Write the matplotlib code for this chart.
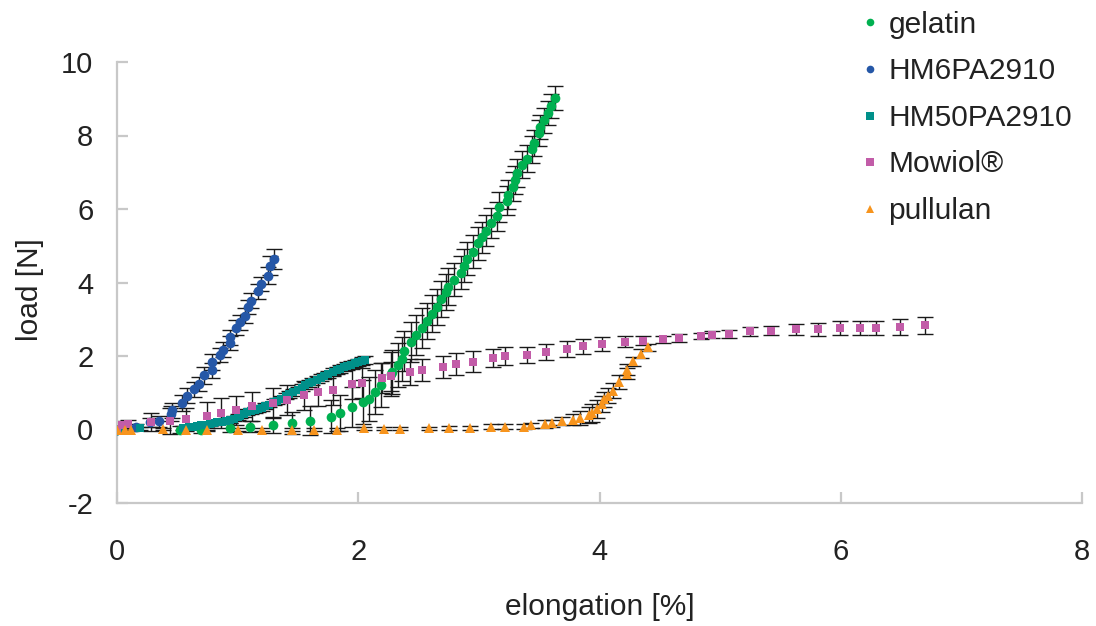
import matplotlib
matplotlib.use("Agg")

import matplotlib.pyplot as plt
from matplotlib.lines import Line2D

plt.rcParams["font.family"] = ["Liberation Sans", "DejaVu Sans"]
plt.rcParams["axes.unicode_minus"] = False

# ── Colours ────────────────────────────────────────────────────────────────
GREEN  = "#00b050"
BLUE   = "#2557a7"
TEAL   = "#00908a"
PINK   = "#c25ca8"
ORANGE = "#f7941d"
AXIS   = "#c8c8c8"
TEXT   = "#222222"

# ── Data ──────────────────────────────────────────────────────────────────
GELATIN_X = [0.0, 0.52, 0.70, 0.94, 1.10, 1.29, 1.45, 1.60, 1.77, 1.85,
             1.95, 2.04, 2.09, 2.14, 2.19, 2.27, 2.28, 2.33, 2.36,
             2.38, 2.44, 2.48, 2.53, 2.57, 2.61, 2.65, 2.69, 2.73, 2.74,
             2.79, 2.85, 2.88, 2.90, 2.95, 2.99, 3.03, 3.06, 3.10, 3.15,
             3.17, 3.23, 3.24, 3.28, 3.30, 3.32, 3.36, 3.40, 3.44, 3.46,
             3.50, 3.51, 3.54, 3.57, 3.60, 3.63]
GELATIN_Y = [0.0, 0.0, 0.0, 0.05, 0.08, 0.11, 0.17, 0.24, 0.35, 0.45,
             0.61, 0.74, 0.84, 1.02, 1.22, 1.50, 1.56, 1.75, 1.91,
             2.13, 2.38, 2.57, 2.76, 2.95, 3.15, 3.33, 3.55, 3.74, 3.89,
             4.08, 4.27, 4.46, 4.65, 4.84, 5.07, 5.23, 5.41, 5.62, 5.80,
             6.05, 6.23, 6.39, 6.61, 6.80, 6.99, 7.21, 7.37, 7.62, 7.79,
             8.06, 8.23, 8.41, 8.61, 8.80, 9.02]
GELATIN_ERR = [0.05, 0.1, 0.1, 0.12, 0.15, 0.2, 0.3, 0.4, 0.45, 0.5,
               0.55, 0.6, 0.6, 0.6, 0.6, 0.6, 0.6, 0.6, 0.6,
               0.55, 0.55, 0.55, 0.55, 0.5, 0.5, 0.5, 0.5, 0.5, 0.5,
               0.45, 0.45, 0.45, 0.45, 0.45, 0.45, 0.42, 0.42, 0.42, 0.4,
               0.4, 0.4, 0.4, 0.4, 0.38, 0.38, 0.38, 0.36, 0.36, 0.35,
               0.35, 0.33, 0.33, 0.32, 0.32, 0.32]

HM6_X = [0.0, 0.155, 0.27, 0.35, 0.45, 0.46, 0.54, 0.58, 0.64, 0.68,
         0.725, 0.79, 0.79, 0.85, 0.875, 0.94, 0.94, 0.99, 1.02, 1.06,
         1.085, 1.11, 1.17, 1.19, 1.25, 1.27, 1.30]
HM6_Y = [0.0, 0.08, 0.2, 0.23, 0.43, 0.52, 0.73, 0.92, 1.09, 1.24,
         1.47, 1.61, 1.83, 2.03, 2.17, 2.35, 2.51, 2.77, 2.92, 3.10,
         3.33, 3.51, 3.76, 3.96, 4.19, 4.46, 4.63]
HM6_ERR = [0.05, 0.08, 0.12, 0.15, 0.2, 0.2, 0.22, 0.2, 0.2, 0.2,
           0.22, 0.2, 0.22, 0.2, 0.2, 0.2, 0.2, 0.2, 0.2, 0.2,
           0.2, 0.2, 0.2, 0.2, 0.22, 0.25, 0.27]

HM50_X = [0.0, 0.05, 0.19, 0.55, 0.60, 0.63, 0.66, 0.70, 0.74, 0.77,
          0.80, 0.83, 0.87, 0.90, 0.94, 0.97, 1.00, 1.02, 1.05, 1.08,
          1.11, 1.14, 1.17, 1.20, 1.23, 1.26, 1.30, 1.33, 1.36, 1.40,
          1.43, 1.46, 1.50, 1.53, 1.56, 1.59, 1.62, 1.66, 1.69, 1.72,
          1.75, 1.79, 1.82, 1.85, 1.88, 1.91, 1.94, 1.97, 2.00, 2.03,
          2.06]
HM50_Y = [0.0, 0.02, 0.04, 0.05, 0.07, 0.08, 0.09, 0.11, 0.13, 0.15,
          0.17, 0.20, 0.21, 0.23, 0.25, 0.29, 0.34, 0.38, 0.43, 0.47,
          0.50, 0.52, 0.55, 0.58, 0.63, 0.68, 0.74, 0.78, 0.84, 0.90,
          0.96, 1.01, 1.08, 1.14, 1.20, 1.26, 1.30, 1.36, 1.41, 1.46,
          1.50, 1.56, 1.61, 1.65, 1.69, 1.73, 1.76, 1.80, 1.83, 1.86,
          1.89]
HM50_ERR = [0.02, 0.03, 0.04, 0.05, 0.05, 0.05, 0.05, 0.05, 0.06, 0.06,
            0.06, 0.06, 0.06, 0.07, 0.07, 0.07, 0.07, 0.08, 0.08, 0.08,
            0.08, 0.08, 0.08, 0.08, 0.08, 0.08, 0.08, 0.08, 0.08, 0.08,
            0.09, 0.09, 0.09, 0.09, 0.09, 0.09, 0.09, 0.09, 0.09, 0.09,
            0.1, 0.1, 0.1, 0.1, 0.1, 0.1, 0.1, 0.1, 0.1, 0.1,
            0.1]

MOWIOL_X = [0.0, 0.04, 0.09, 0.28, 0.44, 0.57, 0.75, 0.86, 0.99, 1.12,
            1.29, 1.41, 1.55, 1.67, 1.79, 1.95, 2.03, 2.20, 2.27, 2.43,
            2.53, 2.70, 2.81, 2.95, 3.12, 3.22, 3.40, 3.56, 3.73, 3.86,
            4.02, 4.21, 4.36, 4.53, 4.66, 4.84, 4.93, 5.07, 5.25, 5.42,
            5.63, 5.81, 5.99, 6.16, 6.29, 6.49, 6.70]
MOWIOL_Y = [0.0, 0.13, 0.15, 0.20, 0.23, 0.29, 0.36, 0.45, 0.52, 0.63,
            0.73, 0.80, 0.93, 1.03, 1.08, 1.24, 1.27, 1.40, 1.45, 1.56,
            1.62, 1.71, 1.79, 1.85, 1.94, 2.00, 2.03, 2.12, 2.19, 2.26,
            2.33, 2.39, 2.42, 2.45, 2.49, 2.54, 2.58, 2.60, 2.67, 2.69,
            2.73, 2.73, 2.76, 2.76, 2.76, 2.78, 2.83]
MOWIOL_ERR = [0.05, 0.1, 0.12, 0.25, 0.35, 0.3, 0.38, 0.4, 0.4, 0.4,
              0.4, 0.4, 0.4, 0.4, 0.4, 0.4, 0.4, 0.4, 0.4, 0.35,
              0.3, 0.3, 0.3, 0.28, 0.25, 0.25, 0.22, 0.22, 0.22, 0.2,
              0.2, 0.15, 0.12, 0.1, 0.1, 0.08, 0.1, 0.12, 0.12, 0.13,
              0.15, 0.18, 0.18, 0.2, 0.2, 0.22, 0.24]

PULLULAN_X = [0.0, 0.07, 0.12, 0.38, 0.57, 0.75, 1.00, 1.20, 1.45, 1.63,
              1.82, 2.05, 2.21, 2.35, 2.59, 2.75, 2.93, 3.10, 3.22, 3.37,
              3.43, 3.55, 3.61, 3.69, 3.78, 3.84, 3.91, 3.94, 3.98, 4.02,
              4.04, 4.07, 4.11, 4.16, 4.23, 4.23, 4.28, 4.34, 4.40]
PULLULAN_Y = [0.0, 0.0, 0.0, 0.02, 0.0, 0.0, 0.0, 0.0, 0.0, 0.0,
              0.0, 0.03, 0.02, 0.02, 0.03, 0.05, 0.05, 0.08, 0.08, 0.08,
              0.11, 0.15, 0.17, 0.23, 0.26, 0.31, 0.40, 0.45, 0.56, 0.70,
              0.82, 0.92, 1.06, 1.29, 1.52, 1.62, 1.86, 2.06, 2.24]
PULLULAN_ERR = [0.03, 0.03, 0.03, 0.03, 0.03, 0.03, 0.03, 0.03, 0.03, 0.03,
                0.03, 0.04, 0.04, 0.04, 0.05, 0.05, 0.05, 0.06, 0.06, 0.07,
                0.08, 0.1, 0.1, 0.12, 0.15, 0.2, 0.22, 0.25, 0.25, 0.22,
                0.2, 0.2, 0.2, 0.18, 0.15, 0.15, 0.12, 0.12, 0.1]

SERIES = [
    ("gelatin",    GELATIN_X,  GELATIN_Y,  GELATIN_ERR,  GREEN,  "o", 7.0),
    ("HM6PA2910",  HM6_X,      HM6_Y,      HM6_ERR,      BLUE,   "o", 7.0),
    ("HM50PA2910", HM50_X,     HM50_Y,     HM50_ERR,     TEAL,   "s", 6.3),
    ("Mowiol®",    MOWIOL_X,   MOWIOL_Y,   MOWIOL_ERR,   PINK,   "s", 6.3),
    ("pullulan",   PULLULAN_X, PULLULAN_Y, PULLULAN_ERR, ORANGE, "^", 7.8),
]

W, H = 1096, 626
fig = plt.figure(figsize=(W / 100, H / 100), dpi=100)
ax = fig.add_axes([117 / W, 1 - 503 / H, (1082 - 117) / W, (503 - 62) / H])

# error bars first, markers on top
for label, xs, ys, err, color, marker, ms in SERIES:
    ax.errorbar(xs, ys, yerr=err, fmt="none", ecolor="#1a1a1a",
                elinewidth=1.0, capsize=5.5, capthick=1.0, zorder=2)
for label, xs, ys, err, color, marker, ms in SERIES:
    ax.plot(xs, ys, linestyle="none", marker=marker, markersize=ms,
            color=color, markeredgewidth=0, zorder=3)

ax.set_xlim(0, 8)
ax.set_ylim(-2, 10)
ax.set_xticks([0, 2, 4, 6, 8])
ax.set_yticks([-2, 0, 2, 4, 6, 8, 10])

for side in ("top", "right"):
    ax.spines[side].set_visible(False)
for side in ("left", "bottom"):
    ax.spines[side].set_color(AXIS)
    ax.spines[side].set_linewidth(1.6)

ax.tick_params(axis="y", direction="in", length=8, width=1.6, color=AXIS,
               labelsize=21, labelcolor=TEXT, pad=17)
ax.tick_params(axis="x", direction="in", length=8, width=1.6, color=AXIS,
               labelsize=21, labelcolor=TEXT, pad=25)

fig.text(30 / W, 1 - 290 / H, "load [N]", rotation=90, fontsize=21.5,
         color=TEXT, ha="center", va="center")
fig.text(600 / W, 1 - 607 / H, "elongation [%]", fontsize=21.5,
         color=TEXT, ha="center", va="center")

# legend, outside upper right
handles = [Line2D([], [], linestyle="none", marker=m, markersize=5.5,
                  color=c, markeredgewidth=0)
           for _, _, _, _, c, m, _ in SERIES]
labels = [s[0] for s in SERIES]
leg = fig.legend(handles, labels, loc="upper left",
                 bbox_to_anchor=(846 / W, 1 + 1 / H), frameon=False,
                 fontsize=21.5, labelspacing=0.62, handlelength=0.8,
                 handletextpad=0.22, borderaxespad=0)
for t in leg.get_texts():
    t.set_color(TEXT)

fig.savefig("out.png", dpi=100)
plt.close(fig)
